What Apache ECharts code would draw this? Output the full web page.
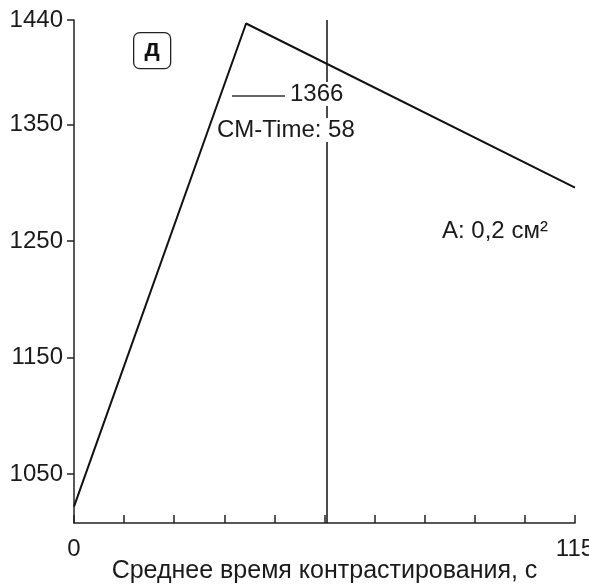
<!DOCTYPE html>
<html>
<head>
<meta charset="utf-8">
<script src="https://cdn.jsdelivr.net/npm/echarts@6/dist/echarts.min.js"></script>
<style>
  html, body { margin: 0; padding: 0; background: #fff; }
  #chart { width: 589px; height: 585px; }
</style>
</head>
<body>
<div id="chart"></div>
<script>
// данные кривой
const timeValues = [0, 39.5, 115];
const sizeValues = [1022, 1437, 1296];
const yTicks = [1050, 1150, 1250, 1350, 1440];
const xLabels = [0, 115];
const cmTime = 58;

const FONT = 'Liberation Sans, Arial, sans-serif';
const chart = echarts.init(document.getElementById('chart'));

const option = {
    animation: false,
    grid: { left: 74, right: 14, top: 20, bottom: 62, outerBoundsMode: 'none', containLabel: false },
    xAxis: {
        type: 'value',
        min: 0,
        max: 115,
        interval: 11.5,
        name: 'Среднее время контрастирования, с',
        nameLocation: 'middle',
        nameGap: 36,
        nameMoveOverlap: false,
        nameTextStyle: { fontFamily: FONT, fontSize: 25, color: '#1a1a1a' },
        splitLine: { show: false },
        axisLine: { lineStyle: { color: '#222', width: 1.5 } },
        axisTick: { inside: true, length: 8, lineStyle: { color: '#222', width: 1.5 } },
        axisLabel: {
            fontFamily: FONT, fontSize: 24, color: '#1a1a1a', margin: 14,
            showMaxLabel: true,
            formatter: v => (xLabels.includes(Math.round(v * 10) / 10) ? String(v) : '')
        }
    },
    yAxis: {
        type: 'value',
        min: 1008,
        max: 1440,
        splitLine: { show: false },
        axisLine: { show: true, lineStyle: { color: '#222', width: 1.5 } },
        axisTick: { show: true, length: 7, customValues: yTicks, lineStyle: { color: '#222', width: 1.5 } },
        axisLabel: {
            fontFamily: FONT, fontSize: 24, color: '#1a1a1a', margin: 11,
            customValues: yTicks,
            formatter: v => String(v)
        }
    },
    series: [
        {
            type: 'line',
            data: timeValues.map((t, i) => [t, sizeValues[i]]),
            symbol: 'none',
            lineStyle: { color: '#111', width: 2 },
            markLine: {
                silent: true,
                symbol: 'none',
                label: { show: false },
                lineStyle: { color: '#111', width: 1.5, type: 'solid' },
                data: [{ xAxis: cmTime }]
            }
        }
    ],
    graphic: [
        {
            type: 'group', left: 133, top: 32, z: 100,
            children: [
                { type: 'rect', shape: { x: 0, y: 0, width: 37, height: 36, r: 6 },
                  style: { fill: '#fff', stroke: '#222', lineWidth: 1.3 } },
                { type: 'text', x: 18.5, y: 17,
                  style: { text: 'д', fontFamily: FONT, fontSize: 24, fontWeight: 'bold', fill: '#111',
                           align: 'center', verticalAlign: 'middle' } }
            ]
        },
        { type: 'line', z: 100, shape: { x1: 232, y1: 96, x2: 285, y2: 96 }, style: { stroke: '#333', lineWidth: 1.3 } },
        { type: 'text', left: 289, top: 82, z: 100,
          style: { text: '1366', fontFamily: FONT, fontSize: 24, fill: '#1a1a1a', backgroundColor: '#fff', padding: [0, 1] } },
        { type: 'text', left: 216, top: 118, z: 100,
          style: { text: 'CM-Time: 58', fontFamily: FONT, fontSize: 24, fill: '#1a1a1a', backgroundColor: '#fff', padding: [0, 1] } },
        { type: 'text', left: 442, top: 219, z: 100,
          style: { text: 'A: 0,2 см²', fontFamily: FONT, fontSize: 24, fill: '#1a1a1a' } }
    ]
};

chart.setOption(option);
</script>
</body>
</html>
